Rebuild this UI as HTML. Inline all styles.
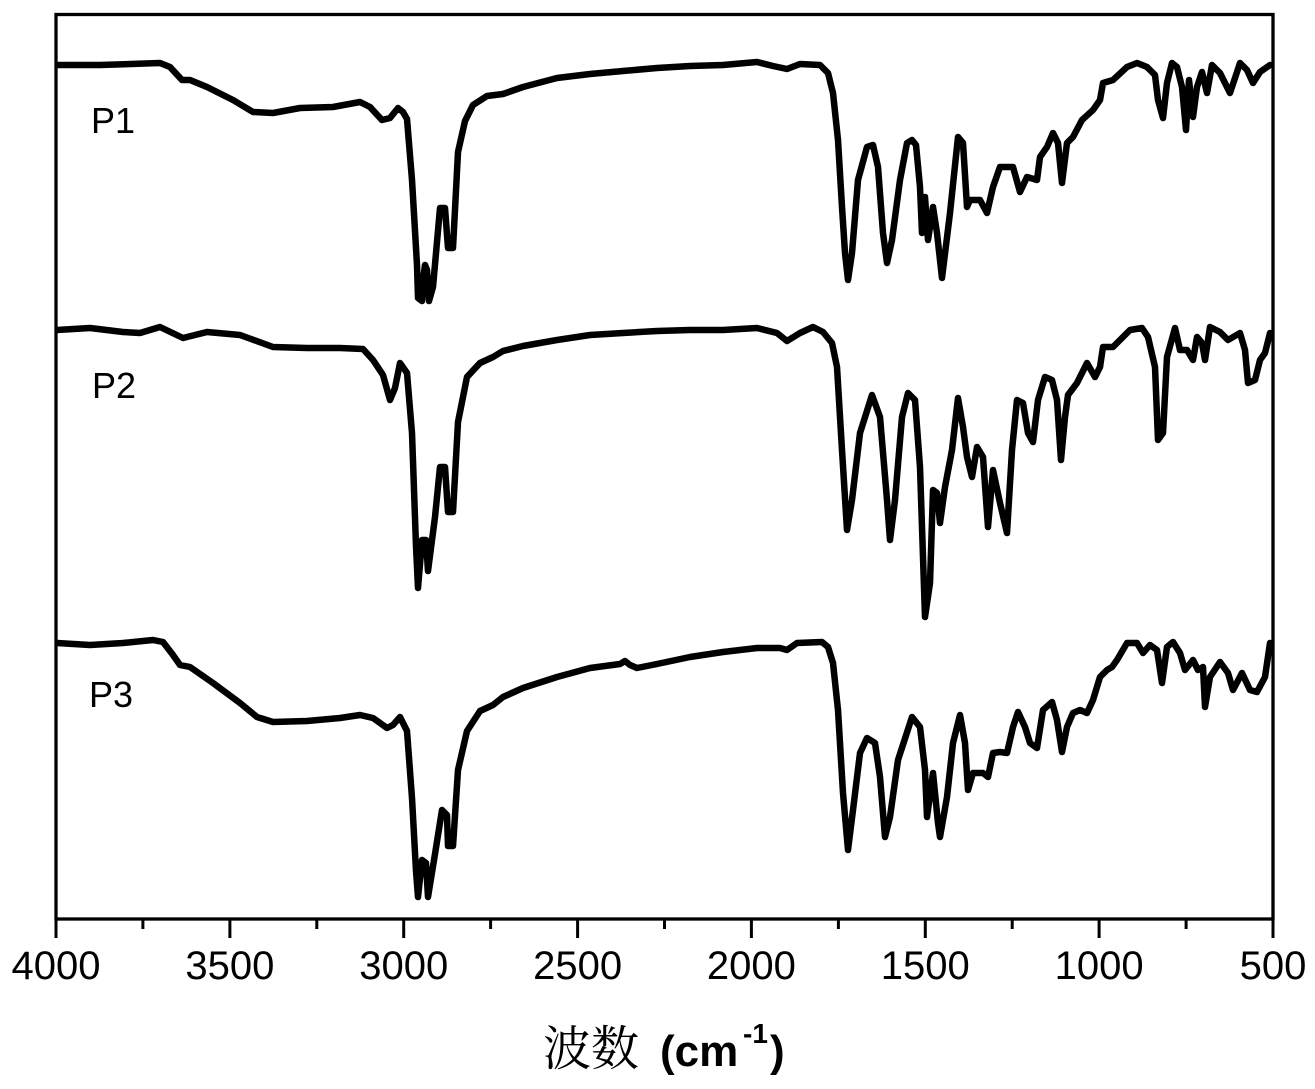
<!DOCTYPE html>
<html>
<head>
<meta charset="utf-8">
<style>
html,body{margin:0;padding:0;background:#fff;}
svg{display:block;}
</style>
</head>
<body>
<svg width="1315" height="1089" viewBox="0 0 1315 1089" xmlns="http://www.w3.org/2000/svg">
<rect x="0" y="0" width="1315" height="1089" fill="#fff"/>
<defs>
<clipPath id="pc"><rect x="56" y="14" width="1217" height="905"/></clipPath>
</defs>
<g clip-path="url(#pc)" fill="none" stroke="#000" stroke-width="6.5" stroke-linejoin="round" stroke-linecap="round">
<polyline points="57,65 100,65 160,63 170,67 182,80 190,80 207,87 233,100 253,112 273,113 300,108 333,107 360,102 370,107 382,120 390,118 398,108 403,112 407,119 412,180 417,265 418,298 422,301 423,280 425,265 427,270 429,301 433,287 440,208 445,208 448,248 453,248 458,152 465,121 473,105 487,96 503,94 523,87 557,78 590,74 623,71 657,68 690,66 723,65 757,62 773,66 787,69 800,64 820,65 828,73 833,93 838,140 842,207 845,253 848,280 852,253 858,180 867,147 873,145 878,167 883,233 887,263 892,240 900,180 907,143 912,140 916,145 920,187 922,233 925,197 928,240 933,207 937,233 942,278 950,213 958,137 963,143 967,207 970,200 980,200 987,213 993,187 1000,167 1013,167 1020,192 1027,177 1037,180 1040,157 1047,147 1053,133 1058,143 1062,183 1067,143 1073,137 1082,120 1093,110 1100,100 1103,83 1113,80 1127,67 1137,63 1147,67 1155,75 1158,100 1163,118 1167,83 1172,63 1177,67 1182,87 1186,130 1189,80 1193,117 1197,87 1202,72 1207,93 1212,65 1220,73 1230,93 1240,63 1247,70 1253,83 1260,72 1270,65"/>
<polyline points="57,330 90,328 123,332 140,333 160,327 183,338 207,332 240,335 273,347 307,348 340,348 363,349 373,360 383,375 390,400 395,388 400,363 407,373 412,433 416,546 418,588 422,540 426,540 428,571 435,517 440,467 445,467 448,512 453,512 458,422 467,377 480,363 493,357 503,351 523,346 557,340 590,335 623,333 657,331 690,330 723,330 757,328 777,333 787,341 800,333 813,327 823,332 832,343 837,367 842,450 847,530 852,500 860,433 872,395 880,417 887,500 890,540 895,500 902,417 908,393 915,400 920,467 925,617 930,583 933,490 937,493 940,523 945,487 952,450 958,398 963,427 967,457 972,477 977,447 983,457 988,527 993,470 1000,503 1007,533 1012,450 1017,400 1023,403 1028,433 1033,442 1038,400 1045,377 1052,380 1057,400 1061,460 1065,417 1068,395 1077,383 1082,373 1087,363 1095,377 1100,367 1103,347 1113,347 1118,342 1130,330 1142,328 1148,337 1155,367 1158,440 1163,433 1167,357 1175,328 1180,350 1187,350 1193,360 1197,337 1202,343 1205,360 1210,327 1220,332 1228,340 1240,333 1245,350 1248,383 1255,380 1260,360 1265,353 1270,333"/>
<polyline points="57,643 90,645 123,643 153,640 163,642 173,655 180,665 190,667 213,683 240,703 257,717 273,722 307,721 340,718 360,715 373,718 387,728 393,725 400,717 407,731 412,798 416,871 418,897 422,860 426,863 428,897 435,854 442,810 447,815 448,846 453,846 458,770 467,731 480,711 493,705 503,697 523,688 557,677 590,668 620,664 625,661 630,665 637,668 657,664 690,657 723,652 757,648 780,648 787,650 797,643 822,642 828,647 833,663 838,710 843,793 848,850 853,810 860,753 867,738 875,743 880,777 885,837 890,817 898,760 912,717 920,727 925,770 927,817 933,773 938,823 940,837 947,797 953,743 960,715 965,743 968,790 973,773 983,773 988,777 993,753 1000,752 1007,753 1013,727 1018,712 1025,727 1030,743 1037,748 1043,710 1052,702 1057,720 1062,752 1067,727 1073,713 1080,710 1087,713 1093,700 1100,677 1107,670 1112,667 1117,660 1127,643 1137,643 1143,653 1150,645 1157,650 1162,683 1167,647 1173,642 1180,653 1185,670 1193,660 1198,670 1203,667 1205,707 1210,677 1220,662 1228,673 1233,690 1242,673 1250,690 1257,692 1265,677 1270,643"/>
</g>
<rect x="56" y="14.5" width="1217" height="904.5" fill="none" stroke="#000" stroke-width="3.3"/>
<g stroke="#000" stroke-width="3">
<line x1="56" y1="919" x2="56" y2="938"/>
<line x1="229.9" y1="919" x2="229.9" y2="938"/>
<line x1="403.7" y1="919" x2="403.7" y2="938"/>
<line x1="577.6" y1="919" x2="577.6" y2="938"/>
<line x1="751.4" y1="919" x2="751.4" y2="938"/>
<line x1="925.3" y1="919" x2="925.3" y2="938"/>
<line x1="1099.1" y1="919" x2="1099.1" y2="938"/>
<line x1="1273" y1="919" x2="1273" y2="938"/>
<line x1="142.9" y1="919" x2="142.9" y2="929"/>
<line x1="316.8" y1="919" x2="316.8" y2="929"/>
<line x1="490.6" y1="919" x2="490.6" y2="929"/>
<line x1="664.5" y1="919" x2="664.5" y2="929"/>
<line x1="838.4" y1="919" x2="838.4" y2="929"/>
<line x1="1012.2" y1="919" x2="1012.2" y2="929"/>
<line x1="1186.1" y1="919" x2="1186.1" y2="929"/>
</g>
<g font-family="'Liberation Sans', Arial, sans-serif" font-size="40" fill="#000" text-anchor="middle">
<text x="56" y="979">4000</text>
<text x="229.9" y="979">3500</text>
<text x="403.7" y="979">3000</text>
<text x="577.6" y="979">2500</text>
<text x="751.4" y="979">2000</text>
<text x="925.3" y="979">1500</text>
<text x="1099.1" y="979">1000</text>
<text x="1273" y="979">500</text>
</g>
<g font-family="'Liberation Sans', Arial, sans-serif" font-size="36" fill="#000">
<text x="91" y="133">P1</text>
<text x="92" y="398">P2</text>
<text x="89" y="707">P3</text>
</g>
<text x="543" y="1065" font-family="'Liberation Serif', 'Noto Serif CJK SC', serif" font-size="48" fill="#000">波数</text>
<text x="660" y="1066" font-family="'Liberation Sans', Arial, sans-serif" font-size="44" font-weight="bold" fill="#000">(cm</text>
<text x="743" y="1043" font-family="'Liberation Sans', Arial, sans-serif" font-size="28" font-weight="bold" fill="#000">-1</text>
<text x="770" y="1066" font-family="'Liberation Sans', Arial, sans-serif" font-size="44" font-weight="bold" fill="#000">)</text>
</svg>
</body>
</html>
